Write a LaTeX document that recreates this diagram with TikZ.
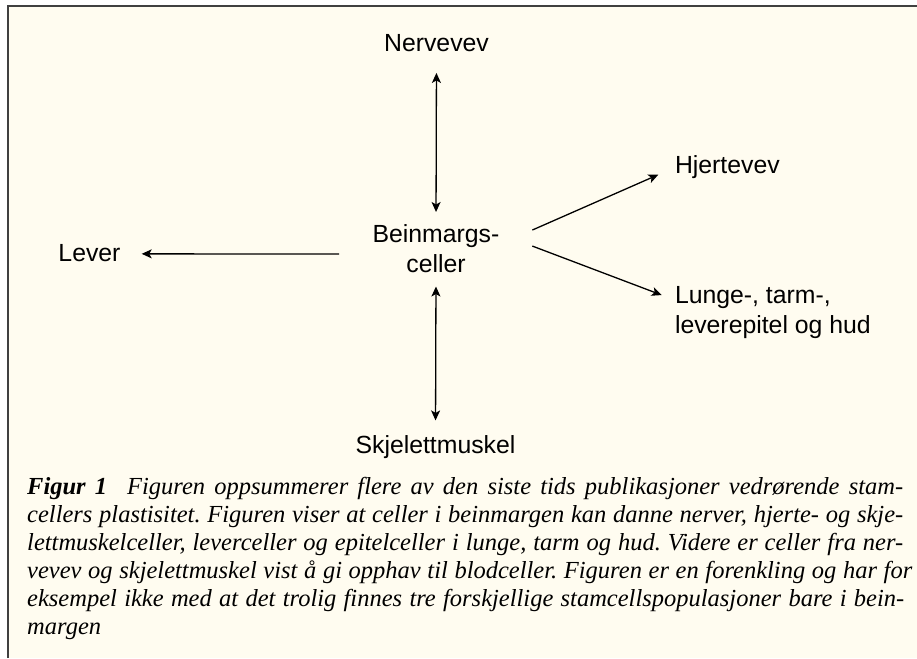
\documentclass[tikz,border=0pt]{standalone}
\usepackage{fontspec}
\setmainfont{Liberation Serif}
\setsansfont{Liberation Sans}
\usetikzlibrary{arrows.meta}
\definecolor{bgcream}{RGB}{255,252,240}
\definecolor{framegray}{RGB}{64,64,64}
\begin{document}
\begin{tikzpicture}[x=1pt,y=-1pt,
  lbl/.style={font=\sffamily\fontsize{24.8}{30.5}\selectfont, inner sep=0pt, outer sep=0pt, align=center},
  arr/.style={line width=1.3pt, -{Stealth[length=10pt,width=9pt,inset=2.5pt]}},
  dbl/.style={line width=1.3pt, {Stealth[length=10pt,width=9pt,inset=2.5pt]}-{Stealth[length=10pt,width=9pt,inset=2.5pt]}}]
\useasboundingbox (0,0) rectangle (917,658);
\fill[white] (0,0) rectangle (917,658);
\fill[bgcream] (7.5,6.5) rectangle (917,658);
\draw[framegray, line width=2pt] (7.5,658) -- (7.5,6.5) -- (917,6.5);

\node[lbl, anchor=base] (nerv) at (436.5,51.7) {Nervevev};
\node[lbl, anchor=north] (bein) at (436,224.3) {Beinmargs-\\celler};
\node[lbl, anchor=base] (skel) at (435.5,453) {Skjelettmuskel};
\node[lbl, anchor=base east] (lever) at (120.5,261) {Lever};
\node[lbl, anchor=base west] (hjerte) at (675,173.3) {Hjertevev};
\node[lbl, anchor=north west, align=left] (lunge) at (675,286.3) {Lunge-, tarm-,\\leverepitel og hud};

\draw[dbl, shorten <=21pt, shorten >=12.3pt] (nerv.south) -- (bein.north);
\draw[dbl, shorten <=13.5pt, shorten >=14.6pt] (bein.south) -- (skel.north);
\draw[arr] ([xshift=-33.6pt,yshift=-5.4pt]bein.west) -- ([xshift=21.2pt,yshift=-1.25pt]lever.east);
\draw[arr] ([xshift=32.9pt,yshift=18.6pt]bein.east) -- ([xshift=-16.7pt,yshift=-7.8pt]hjerte.west);
\draw[arr] ([xshift=32.9pt,yshift=2.6pt]bein.east) -- ([xshift=-13.3pt,yshift=17.6pt]lunge.west);

\node[anchor=base west, inner sep=0pt] (cap) at (27,494) {%
\begin{minipage}[t]{890pt}\fontsize{24.5}{28.1}\selectfont\itshape\frenchspacing
\makebox[876pt][s]{\textbf{Figur 1}\hspace{20pt}Figuren oppsummerer flere av den siste tids publikasjoner vedrørende stam-}\\
\makebox[876pt][s]{cellers plastisitet. Figuren viser at celler i beinmargen kan danne nerver, hjerte- og skje-}\\
\makebox[876pt][s]{lettmuskelceller, leverceller og epitelceller i lunge, tarm og hud. Videre er celler fra ner-}\\
\makebox[885pt][s]{vevev og skjelettmuskel vist å gi opphav til blodceller. Figuren er en forenkling og har for}\\
\makebox[877pt][s]{eksempel ikke med at det trolig finnes tre forskjellige stamcellspopulasjoner bare i bein-}\\
margen
\end{minipage}};
\end{tikzpicture}
\end{document}
